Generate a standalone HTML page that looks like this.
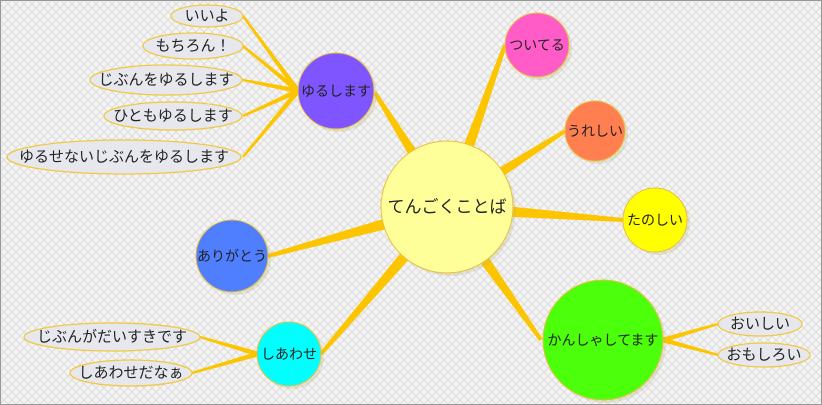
<!DOCTYPE html>
<html><head><meta charset="utf-8">
<style>
html,body{margin:0;padding:0;width:822px;height:405px;overflow:hidden;background:#fff}
svg{display:block}
text{font-family:"Liberation Sans","Noto Sans CJK JP",sans-serif;fill:#222;text-anchor:middle;dominant-baseline:central}
</style></head><body>
<svg id="s" width="822" height="405" viewBox="0 0 822 405" xmlns="http://www.w3.org/2000/svg">
<defs>
<pattern id="chk" width="8" height="8" patternUnits="userSpaceOnUse">
<rect width="8" height="8" fill="#f4f4f4"/>
<path d="M0 4 L4 0 L8 4 L4 8 Z" fill="none" stroke="#dcdcdc" stroke-width="1"/>
</pattern>
</defs>
<rect x="0" y="0" width="822" height="405" fill="url(#chk)"/>
<rect x="0.5" y="0.5" width="821" height="404" fill="none" stroke="#999" stroke-width="1"/>
<g id="links" fill="#fcc500"></g>
<g id="nodes"></g>
</svg>
<script>
var NS="http://www.w3.org/2000/svg";
var L=document.getElementById('links'),N=document.getElementById('nodes');
function taper(x1,y1,x2,y2,w1,w2){
 var dx=x2-x1,dy=y2-y1,l=Math.hypot(dx,dy),nx=-dy/l,ny=dx/l;
 var p=document.createElementNS(NS,'polygon');
 p.setAttribute('points',[x1+nx*w1,y1+ny*w1,x2+nx*w2,y2+ny*w2,x2-nx*w2,y2-ny*w2,x1-nx*w1,y1-ny*w1].join(' '));
 L.appendChild(p);
}
function circ(cx,cy,r,fill,label,fs){
 var c=document.createElementNS(NS,'circle');
 c.setAttribute('cx',cx+3);c.setAttribute('cy',cy+3);c.setAttribute('r',r);c.setAttribute('fill','rgba(180,180,120,0.25)');N.appendChild(c);
 c=document.createElementNS(NS,'circle');
 c.setAttribute('cx',cx);c.setAttribute('cy',cy);c.setAttribute('r',r);c.setAttribute('fill',fill);c.setAttribute('stroke','#e8c040');c.setAttribute('stroke-width','1');N.appendChild(c);
 var t=document.createElementNS(NS,'text');t.setAttribute('x',cx);t.setAttribute('y',cy);t.setAttribute('font-size',fs||14);t.textContent=label;N.appendChild(t);
}
function ell(cx,cy,rx,ry,label,fs){
 var e=document.createElementNS(NS,'ellipse');
 e.setAttribute('cx',cx);e.setAttribute('cy',cy);e.setAttribute('rx',rx);e.setAttribute('ry',ry);
 e.setAttribute('fill','#e6e8ee');e.setAttribute('stroke','#f2c840');e.setAttribute('stroke-width','1.3');N.appendChild(e);
 var t=document.createElementNS(NS,'text');t.setAttribute('x',cx);t.setAttribute('y',cy);t.setAttribute('font-size',fs||15);t.textContent=label;N.appendChild(t);
}
var C=[447,207];
taper(C[0],C[1],375,93,7,2);
taper(C[0],C[1],505,45,7,2);
taper(C[0],C[1],565,131,7,2);
taper(C[0],C[1],623,220,7,2);
taper(C[0],C[1],268,256,7,2);
taper(C[0],C[1],321,354,7,2);
taper(C[0],C[1],541,340,7,2);
var Y=[298,91];
[[243,16],[243,46],[243,80],[243,116],[243,157]].forEach(function(p){taper(Y[0],Y[1],p[0],p[1],2.5,1.2)});
[[200,337],[192,373]].forEach(function(p){taper(258,354,p[0],p[1],2.5,1.2)});
[[718,324],[718,355]].forEach(function(p){taper(663,340,p[0],p[1],2.5,1.2)});
circ(447,207,66,'#ffff99','てんごくことば',17);
circ(336,91,38,'#7f55ff','ゆるします',14);
circ(537,45,32,'#ff5cc8','ついてる',14);
circ(595,131,30,'#ff7f50','うれしい',14);
circ(655,220,32,'#ffff00','たのしい',14);
circ(232,256,36,'#4f7fff','ありがとう',14);
circ(289,354,32,'#00ffff','しあわせ',14);
circ(603,340,60,'#4cff0a','かんしゃしてます',14);
ell(207,16,36,11,'いいよ');
ell(193,46,50,13,'もちろん！');
ell(166,80,76,15,'じぶんをゆるします');
ell(173,116,69,14,'ひともゆるします');
ell(124,157,117,17,'ゆるせないじぶんをゆるします');
ell(112,337,88,14,'じぶんがだいすきです');
ell(131,373,61,13,'しあわせだなぁ');
ell(760,324,42,12,'おいしい');
ell(764,355,46,12,'おもしろい');
</script>
</body></html>
